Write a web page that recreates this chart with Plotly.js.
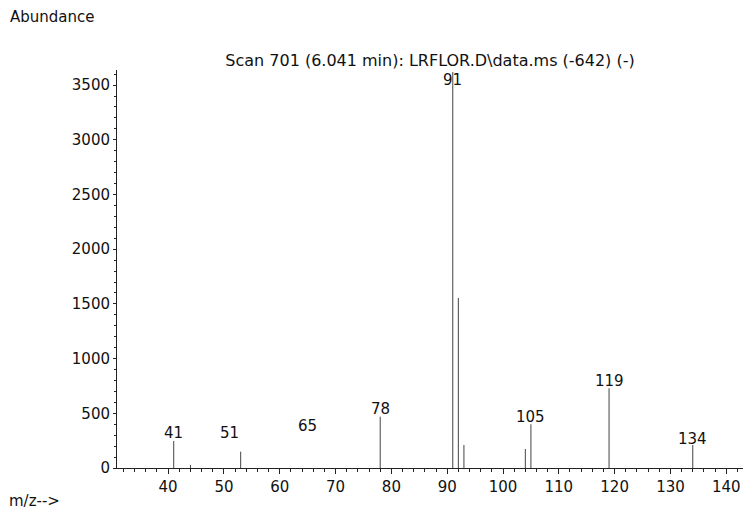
<!DOCTYPE html>
<html>
<head>
<meta charset="utf-8">
<script src="https://cdn.plot.ly/plotly-3.0.1.min.js"></script>
<style>html,body{margin:0;padding:0;background:#fff;}#chart{width:743px;height:511px;}</style>
</head>
<body>
<div id="chart"></div>
<script>
// Peaks (m/z and abundance)
const mz = [41, 44, 53, 78, 91, 92, 93, 104, 105, 119, 134];
const abundance = [247, 27, 149, 469, 3620, 1554, 210, 174, 400, 729, 210];

// Peak labels and the abundance level at which each label sits
const labelText = ['41', '51', '65', '78', '91', '105', '119', '134'];
const labelMz = [41, 51, 65, 78, 91, 105, 119, 134];
const labelY = [317, 323, 384, 539, 3550, 463, 795, 265];

const titleText = 'Scan 701 (6.041 min): LRFLOR.D\\data.ms (-642) (-)';

const FONT = 'DejaVu Sans, Arial, sans-serif';

// build stick lines
const sx = [], sy = [];
mz.forEach((m, i) => { sx.push(m, m, null); sy.push(0, abundance[i], null); });

const traces = [{
  type: 'scatter', mode: 'lines', x: sx, y: sy,
  line: {color: '#444', width: 1}, hoverinfo: 'skip', showlegend: false
}];

const annotations = labelText.map((t, i) => ({
  x: labelMz[i], y: labelY[i], xref: 'x', yref: 'y', text: t, showarrow: false,
  xanchor: 'center', yanchor: 'middle', font: {family: FONT, size: 15, color: '#111'}
}));
annotations.push({
  xref: 'paper', yref: 'paper', x: -117/626 + 8/626, y: 1 + (70-17)/398, text: 'Abundance',
  showarrow: false, xanchor: 'left', yanchor: 'middle', font: {family: FONT, size: 15, color: '#111'}
});
annotations.push({
  xref: 'paper', yref: 'paper', x: -117/626 + 7/626, y: -(501-468)/398, text: 'm/z-->',
  showarrow: false, xanchor: 'left', yanchor: 'middle', font: {family: FONT, size: 15, color: '#111'}
});

const layout = {
  width: 743, height: 511,
  margin: {l: 117, r: 0, t: 70, b: 43, pad: 0},
  paper_bgcolor: '#fff', plot_bgcolor: '#fff',
  showlegend: false,
  title: {text: titleText, x: 0.5, xref: 'paper', y: 1 - 60/511, yref: 'container',
          xanchor: 'center', yanchor: 'middle', font: {family: FONT, size: 16, color: '#111'}},
  xaxis: {
    range: [30.84, 143.0], showgrid: false, zeroline: false,
    showline: true, linecolor: '#222', linewidth: 1,
    ticks: 'outside', ticklen: 5, tickwidth: 1, tickcolor: '#222',
    tick0: 0, dtick: 10, tickfont: {family: FONT, size: 15, color: '#111'},
    minor: {dtick: 2, ticks: 'outside', ticklen: 3, tickwidth: 1, tickcolor: '#222', showgrid: false}
  },
  yaxis: {
    range: [0, 3638], showgrid: false, zeroline: false,
    showline: true, linecolor: '#222', linewidth: 1,
    ticks: 'outside', ticklen: 3, tickwidth: 1, tickcolor: '#222',
    tick0: 0, dtick: 500, tickfont: {family: FONT, size: 15, color: '#111'},
    minor: {dtick: 100, ticks: 'outside', ticklen: 2, tickwidth: 1, tickcolor: '#222', showgrid: false}
  },
  annotations: annotations
};

Plotly.newPlot('chart', traces, layout, {staticPlot: true, displayModeBar: false});
</script>
</body>
</html>
